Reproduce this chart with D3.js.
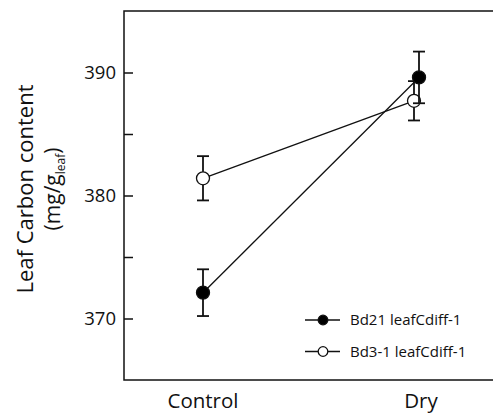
<!DOCTYPE html>
<html>
<head>
<meta charset="utf-8">
<script src="https://cdn.jsdelivr.net/npm/d3@7"></script>
<style>
  body { margin: 0; background: #fff; }
  svg { display: block; font-family: "Open Sans", sans-serif; }
</style>
</head>
<body>
<div id="chart"></div>
<script>
// data
const categories = ["Control", "Dry"];
const bd21Mean = [372.1, 389.6];
const bd21Err = [1.9, 2.1];
const bd31Mean = [381.4, 387.7];
const bd31Err = [1.8, 1.6];
const majorTicks = [370, 380, 390];
const minorTicks = [375, 385];

const series = [
  { name: "Bd3-1 leafCdiff-1", mean: bd31Mean, err: bd31Err, fill: "#fff", dodge: -5 },
  { name: "Bd21 leafCdiff-1", mean: bd21Mean, err: bd21Err, fill: "#000", dodge: 0 },
];

const W = 493, H = 414;
const margin = { top: 11, right: -10, bottom: 34, left: 124 };
const ink = "#111";

const svg = d3.select("#chart").append("svg").attr("width", W).attr("height", H);

const x = d3.scalePoint().domain(categories).range([203, 419]);
const y = d3.scaleLinear().domain([365, 395]).range([H - margin.bottom, margin.top]);

// px of a series point; dodge only applies to Dry where the means are close
const px = (s, i) => x(categories[i]) + (i === 1 ? s.dodge : 0);

// frame (right side runs off the page)
svg.append("rect")
  .attr("x", margin.left).attr("y", margin.top)
  .attr("width", W - margin.left - margin.right)
  .attr("height", y(365) - margin.top)
  .attr("fill", "none").attr("stroke", ink).attr("stroke-width", 1.5);

// y axis
const yAxis = svg.append("g")
  .attr("transform", `translate(${margin.left},0)`)
  .call(d3.axisLeft(y).tickValues(majorTicks).tickSizeInner(-9).tickSizeOuter(0).tickPadding(8));
yAxis.select(".domain").remove();
yAxis.selectAll("line").attr("stroke", ink).attr("stroke-width", 1.5);
yAxis.selectAll("text").attr("fill", ink).style("font-size", "18.5px")
  .style("font-family", "Open Sans");

const yMinor = svg.append("g")
  .attr("transform", `translate(${margin.left},0)`)
  .call(d3.axisLeft(y).tickValues(minorTicks).tickSizeInner(-9).tickSizeOuter(0).tickFormat(""));
yMinor.select(".domain").remove();
yMinor.selectAll("line").attr("stroke", ink).attr("stroke-width", 1.5);

// x labels
svg.selectAll(".xlab")
  .data(categories)
  .enter()
  .append("text")
  .attr("class", "xlab")
  .attr("x", (d) => x(d) + (d === "Dry" ? 2 : 0))
  .attr("y", 408)
  .attr("text-anchor", "middle")
  .attr("fill", ink)
  .style("font-size", "20.5px")
  .text((d) => d);

// y title
const title = svg.append("g").attr("transform", "translate(0,189) rotate(-90)");
title.append("text")
  .attr("x", 0).attr("y", 33)
  .attr("text-anchor", "middle")
  .attr("fill", ink)
  .style("font-size", "22px")
  .text("Leaf Carbon content");
const t2 = title.append("text")
  .attr("x", 0).attr("y", 60)
  .attr("text-anchor", "middle")
  .attr("fill", ink)
  .style("font-size", "21px");
t2.append("tspan").text("(mg/g");
t2.append("tspan").attr("dy", 5).style("font-size", "12px").text("leaf");
t2.append("tspan").attr("dy", -5).text(")");

// series
const line = d3.line().x((d) => d.x).y((d) => y(d.v));
series.forEach((s) => {
  const pts = s.mean.map((v, i) => ({ x: px(s, i), v, e: s.err[i] }));
  const g = svg.append("g");

  g.append("path")
    .datum(pts)
    .attr("d", line)
    .attr("fill", "none")
    .attr("stroke", ink)
    .attr("stroke-width", 1.3);

  const eb = g.selectAll(".eb").data(pts).enter().append("g");
  eb.append("line")
    .attr("x1", (d) => d.x).attr("x2", (d) => d.x)
    .attr("y1", (d) => y(d.v - d.e)).attr("y2", (d) => y(d.v + d.e));
  eb.append("line")
    .attr("x1", (d) => d.x - 6).attr("x2", (d) => d.x + 6)
    .attr("y1", (d) => y(d.v + d.e)).attr("y2", (d) => y(d.v + d.e));
  eb.append("line")
    .attr("x1", (d) => d.x - 6).attr("x2", (d) => d.x + 6)
    .attr("y1", (d) => y(d.v - d.e)).attr("y2", (d) => y(d.v - d.e));
  eb.selectAll("line").attr("stroke", ink).attr("stroke-width", 1.8);

  g.selectAll("circle").data(pts).enter().append("circle")
    .attr("cx", (d) => d.x).attr("cy", (d) => y(d.v))
    .attr("r", 6.5)
    .attr("fill", s.fill)
    .attr("stroke", ink)
    .attr("stroke-width", 1.3);
});

// legend
const legendRows = [series[1], series[0]];
const lg = svg.selectAll(".lg").data(legendRows).enter().append("g")
  .attr("transform", (d, i) => `translate(305,${320 + i * 31.5})`);
lg.append("line").attr("x1", 0).attr("x2", 35).attr("y1", 0).attr("y2", 0)
  .attr("stroke", ink).attr("stroke-width", 1.3);
lg.append("circle").attr("cx", 18).attr("r", 4.8)
  .attr("fill", (d) => d.fill).attr("stroke", ink).attr("stroke-width", 1.3);
lg.append("text").attr("x", 45).attr("y", 5)
  .attr("fill", ink)
  .style("font-size", "15px")
  .text((d) => d.name);
</script>
</body>
</html>
